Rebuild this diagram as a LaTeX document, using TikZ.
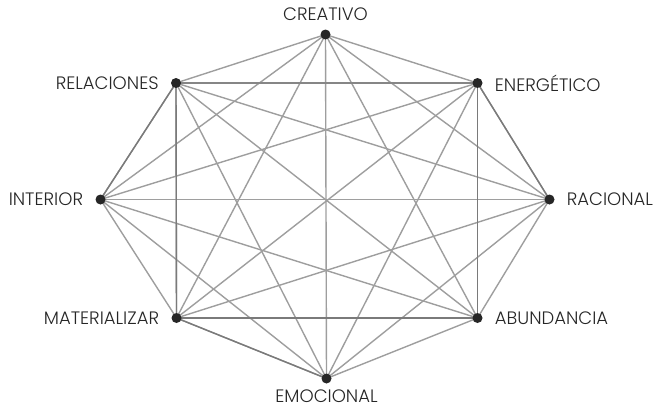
\documentclass[tikz,border=0pt]{standalone}
\usepackage{fontspec}
\setmainfont{Poppins Light}
\usetikzlibrary{positioning,backgrounds}

\begin{document}
\begin{tikzpicture}[x=1pt, y=-1pt,
    dot/.style={circle, fill=black!85, inner sep=0pt, minimum size=10pt},
    tag/.style={inner sep=0pt, font=\fontsize{18}{20}\selectfont, text=black!85},
    thin line/.style={draw=black!38, line width=1.4pt},
    dark line/.style={draw=black!52, line width=1.4pt}
]
\useasboundingbox (0,0) rectangle (655,410);

% puntos
\node[dot] (cre) at (325.5, 34.5) {};
\node[dot] (ene) at (477.5, 83) {};
\node[dot] (rac) at (549.5, 199.5) {};
\node[dot] (abu) at (477.5, 318) {};
\node[dot] (emo) at (326.5, 378.5) {};
\node[dot] (mat) at (176.5, 318) {};
\node[dot] (int) at (100.5, 199.5) {};
\node[dot] (rel) at (176, 83) {};

% todas las lineas
\begin{scope}[on background layer]
\foreach \a/\rest in {cre/{ene,rac,abu,emo,mat,int,rel},
                      ene/{rac,abu,emo,mat,int,rel},
                      rac/{abu,emo,mat,int,rel},
                      abu/{emo,mat,int,rel},
                      emo/{mat,int,rel},
                      mat/{int,rel},
                      int/{rel}}
    \foreach \b in \rest
        \draw[thin line] (\a.center) -- (\b.center);

% lineas mas oscuras
\draw[dark line] (int.center) -- (rel.center) -- (ene.center) -- (rac.center);
\draw[dark line] (mat.center) -- (emo.center);
\draw[dark line] (mat.center) -- (abu.center);
\draw[dark line] (rel.center) -- (mat.center);
\draw[dark line] (ene.center) -- (abu.center);
\end{scope}

% etiquetas
\node[tag, above=8pt of cre] (tcre) {CREATIVO};
\node[tag, right=12pt of ene] (tene) {ENERGÉTICO};
\node[tag, right=12pt of rac] (trac) {RACIONAL};
\node[tag, right=12pt of abu] (tabu) {ABUNDANCIA};
\node[tag, below=6pt of emo] (temo) {EMOCIONAL};
\node[tag, left=12pt of mat] (tmat) {MATERIALIZAR};
\node[tag, left=12pt of int] (tint) {INTERIOR};
\node[tag, left=12pt of rel] (trel) {RELACIONES};

\end{tikzpicture}
\end{document}
